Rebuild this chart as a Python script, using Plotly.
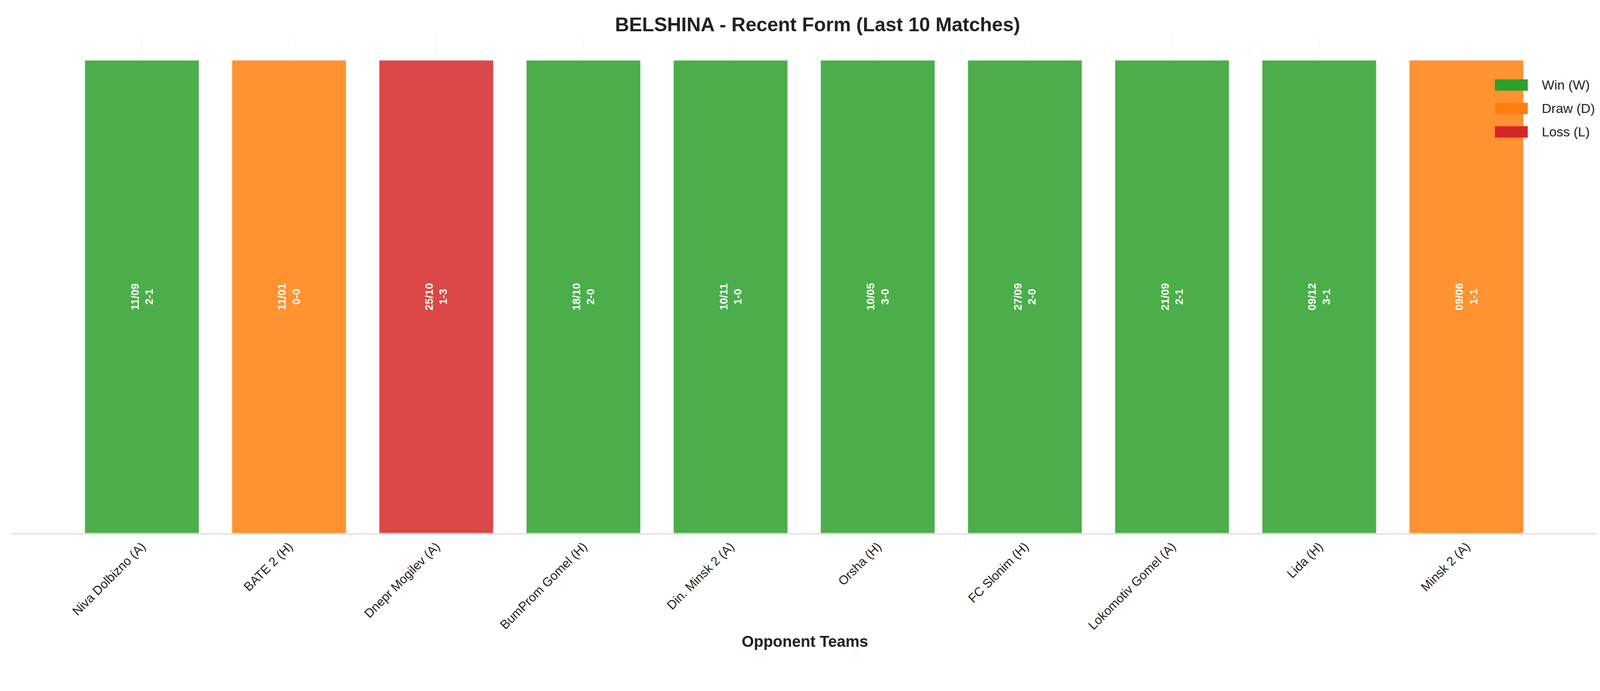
import plotly.graph_objects as go

opponents = ["Niva Dolbizno (A)", "BATE 2 (H)", "Dnepr Mogilev (A)", "BumProm Gomel (H)",
             "Din. Minsk 2 (A)", "Orsha (H)", "FC Slonim (H)", "Lokomotiv Gomel (A)",
             "Lida (H)", "Minsk 2 (A)"]
dates = ["11/09", "11/01", "25/10", "18/10", "10/11", "10/05", "27/09", "21/09", "09/12", "09/06"]
scores = ["2-1", "0-0", "1-3", "2-0", "1-0", "3-0", "2-0", "2-1", "3-1", "1-1"]
results = ["W", "D", "L", "W", "W", "W", "W", "W", "W", "D"]
heights = [1] * 10

colors = {"W": "#2ca02c", "D": "#ff7f0e", "L": "#d62728"}
names = {"W": "Win (W)", "D": "Draw (D)", "L": "Loss (L)"}
xs = list(range(len(opponents)))

fig = go.Figure()
fig.add_trace(go.Bar(
    x=xs, y=heights, width=0.78,
    marker=dict(color=[colors[r] for r in results], opacity=0.85,
                line=dict(color="rgba(255,255,255,0.8)", width=3)),
    text=[f"{d}<br>{s}" for d, s in zip(dates, scores)],
    textposition="inside", insidetextanchor="middle", textangle=-90,
    textfont=dict(color="white", size=28, family="Liberation Sans, Arial", weight="bold"),
    showlegend=False, hoverinfo="skip"))

# manual legend
H = 1768
for i, k in enumerate(["W", "D", "L"]):
    y0 = 195 + i * 60
    fig.add_shape(type="rect", xref="paper", yref="paper",
                  x0=(3819 - 20) / 4065, x1=(3903 - 20) / 4065,
                  y0=1 - (y0 + 29 - 85) / (H - 85 - 411), y1=1 - (y0 - 85) / (H - 85 - 411),
                  fillcolor=colors[k], line=dict(width=0))
    fig.add_annotation(xref="paper", yref="paper", x=(3937 - 20) / 4065,
                       y=1 - (y0 + 14 - 85) / (H - 85 - 411), text=names[k], showarrow=False,
                       xanchor="left", yanchor="middle", font=dict(size=34, color="#222"))

fig.update_layout(
    width=4170, height=1768, plot_bgcolor="white", paper_bgcolor="white",
    margin=dict(l=20, r=85, t=85, b=411),
    title=dict(text="<b>BELSHINA - Recent Form (Last 10 Matches)</b>", x=0.5, xanchor="center",
               y=0.969, yanchor="middle", font=dict(size=50, color="#222", family="Liberation Sans, Arial")),
    font=dict(family="Liberation Sans, Arial", color="#222"),
    showlegend=False,
    bargap=0.22,
)
fig.update_xaxes(range=[-0.89, 9.9], tickmode="array", tickvals=xs, ticktext=opponents,
                 tickangle=-45, tickfont=dict(size=32), showgrid=True,
                 gridcolor="rgba(0,0,0,0.06)", showline=True, linecolor="#ccc", linewidth=2,
                 title=dict(text="<b>Opponent Teams</b>", font=dict(size=40), standoff=10), ticks="")
fig.update_yaxes(range=[0, 1.05], visible=False, showgrid=False)
fig.write_html("out.html")
